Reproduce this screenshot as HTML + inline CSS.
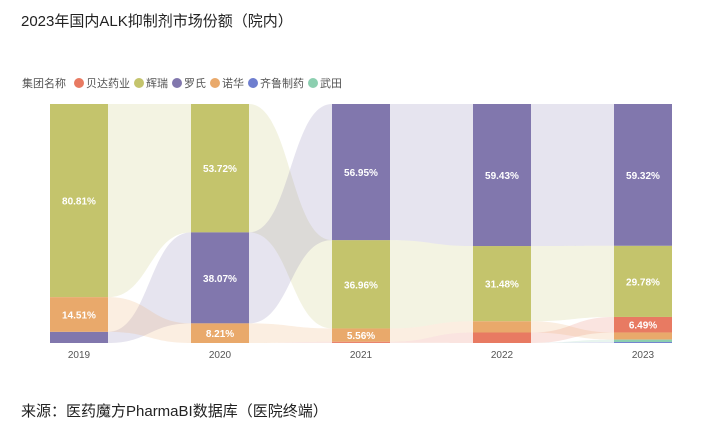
<!DOCTYPE html>
<html><head><meta charset="utf-8"><style>
body{margin:0;width:716px;height:438px;background:#fff;font-family:"Liberation Sans","Noto Sans CJK SC",sans-serif;overflow:hidden;position:relative}
#title{position:absolute;left:21px;top:10px;font-size:15px;color:#222}
#src{position:absolute;left:21px;top:400px;font-size:15px;color:#222}
#legend{position:absolute;left:22px;top:75px;font-size:11px;color:#555;display:flex;align-items:center;gap:0}
.li{display:flex;align-items:center;margin-right:4px}
.dot{width:10px;height:10px;border-radius:50%;margin-right:2px}
svg{position:absolute;left:0;top:0}
</style></head><body>
<div id="title">2023年国内ALK抑制剂市场份额（院内）</div>
<div id="legend"><span style="margin-right:8px">集团名称</span></div>
<svg id="chart" width="716" height="438"></svg>
<div id="src">来源：医药魔方PharmaBI数据库（医院终端）</div>
<script>
const years=["2019","2020","2021","2022","2023"];
const seriesNames=["贝达药业","辉瑞","罗氏","诺华","齐鲁制药","武田"];
const colors=["#e87a62","#c4c46c","#8177ad","#e9a96b","#6e7ecf","#8ccfb0"];
const s_beida=[0,0,0.5,4.39,6.49];
const s_huirui=[80.81,53.72,36.96,31.48,29.78];
const s_luoshi=[4.68,38.07,56.95,59.43,59.32];
const s_nuohua=[14.51,8.21,5.56,4.7,3.0];
const s_qilu=[0,0,0,0,0.4];
const s_wutian=[0,0,0,0,1.0];
const values=[s_beida,s_huirui,s_luoshi,s_nuohua,s_qilu,s_wutian];
const NS="http://www.w3.org/2000/svg";
const svg=document.getElementById('chart');
const leg=document.getElementById('legend');
seriesNames.forEach((n,i)=>{const d=document.createElement('span');d.className='li';


d.innerHTML='<span class="dot" style="background:'+colors[i]+'"></span>'+n;leg.appendChild(d);});
const top0=104,bot=343,H=bot-top0,bw=58,x0=50,step=141;
const xs=i=>x0+i*step;
const yv=v=>v/100*H;
const pos=years.map((y,j)=>{const idx=values.map((s,i)=>i).sort((a,b)=>values[b][j]-values[a][j]);
let y0=top0;const p={};idx.forEach(i=>{const h=yv(values[i][j]);p[i]=[y0,y0+h];y0+=h;});return p;});
function el(t,a){const e=document.createElementNS(NS,t);for(const k in a)e.setAttribute(k,a[k]);svg.appendChild(e);return e;}
for(let j=0;j<years.length-1;j++){
 const xa=xs(j)+bw,xb=xs(j+1),xm=(xa+xb)/2;
 values.forEach((s,i)=>{if(s[j]<=0&&s[j+1]<=0)return;
  const a=pos[j][i],b=pos[j+1][i];
  const d=`M${xa},${a[0]} C${xm},${a[0]} ${xm},${b[0]} ${xb},${b[0]} L${xb},${b[1]} C${xm},${b[1]} ${xm},${a[1]} ${xa},${a[1]} Z`;
  const r=el('path',{d:d,fill:colors[i],'fill-opacity':0.2});
  
  
 });
}
years.forEach((y,j)=>{
 values.forEach((s,i)=>{const v=s[j];if(v<=0)return;const p=pos[j][i];
  const r=el('rect',{x:xs(j),y:p[0],width:bw,height:p[1]-p[0],fill:colors[i]});
  
  
  if(v>=5){const t=el('text',{x:xs(j)+bw/2,y:(p[0]+p[1])/2+4,'text-anchor':'middle','font-size':10,fill:'#fff','font-weight':'bold'});
   t.textContent=v.toFixed(2)+'%';
   
   }
 });
 const t=el('text',{x:xs(j)+bw/2,y:358,'text-anchor':'middle','font-size':10,fill:'#555'});
 t.textContent=y;
 
 
});
</script>
</body></html>
